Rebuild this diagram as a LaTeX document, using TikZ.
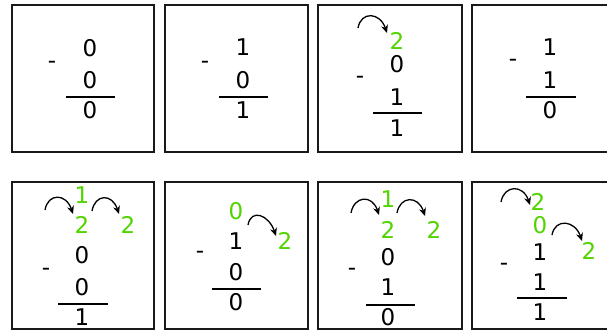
\documentclass[tikz,border=0pt]{standalone}
\usepackage{fontspec}
\setmainfont{DejaVu Sans}
\usetikzlibrary{arrows.meta,calc}
\definecolor{carry}{RGB}{82,212,0}
\tikzset{
  box/.style={draw=black!90, line width=1.6pt},
  dig/.style={inner sep=0pt, font=\fontsize{23}{27}\selectfont},
  gdig/.style={dig, text=carry},
  minus/.style={dig},
  rule/.style={line width=1.5pt},
  carryarrow/.style={line width=1.3pt, -{Stealth[length=8pt,width=7pt]}}
}
\newcommand{\carr}[2]{\draw[carryarrow] (#1) .. controls ($(#1)+(3,-17)$) and ($(#2)+(-7,-21)$) .. (#2);}
\begin{document}
\begin{tikzpicture}[x=1pt,y=-1pt]
\useasboundingbox (0,0) rectangle (607,331);
% boxes
\draw[box] (12,5) rectangle (154,152);
\draw[box] (165,5) rectangle (308,152);
\draw[box] (318,5) rectangle (462,152);
\draw[box] (472,5) rectangle (616,152);
\draw[box] (12,182) rectangle (154,329);
\draw[box] (165,182) rectangle (308,329);
\draw[box] (318,182) rectangle (462,329);
\draw[box] (472,182) rectangle (616,329);

% box 1
\node[dig] (a1) at (90,48) {0};
\node[dig] (a2) at (90,80) {0};
\node[dig] (a3) at (90,110) {0};
\node[minus] (am) at (52,65) {-};
\coordinate (al1) at (66,97); \coordinate (al2) at (115,97);
\draw[rule] (al1) -- (al2);

% box 2
\node[dig] (b1) at (243,47) {1};
\node[dig] (b2) at (243,80) {0};
\node[dig] (b3) at (243,110) {1};
\node[minus] (bm) at (205,65) {-};
\coordinate (bl1) at (219,97); \coordinate (bl2) at (268,97);
\draw[rule] (bl1) -- (bl2);

% box 3
\node[gdig] (cg) at (397,41) {2};
\node[dig] (c1) at (397,64) {0};
\node[dig] (c2) at (397,97) {1};
\node[dig] (c3) at (397,128) {1};
\node[minus] (cm) at (360,80) {-};
\coordinate (cl1) at (373,113); \coordinate (cl2) at (422,113);
\draw[rule] (cl1) -- (cl2);
\coordinate (cs) at (358,28); \coordinate (ce) at (387,33);
\carr{cs}{ce}

% box 4
\node[dig] (d1) at (550,47) {1};
\node[dig] (d2) at (550,80) {1};
\node[dig] (d3) at (550,110) {0};
\node[minus] (dm) at (513,63) {-};
\coordinate (dl1) at (526,97); \coordinate (dl2) at (576,97);
\draw[rule] (dl1) -- (dl2);

% box 5
\node[gdig] (eg1) at (82,195) {1};
\node[gdig] (eg2) at (82,225) {2};
\node[gdig] (eg3) at (128,225) {2};
\node[dig] (e1) at (82,255) {0};
\node[dig] (e2) at (82,287) {0};
\node[dig] (e3) at (82,317) {1};
\node[minus] (em) at (46,272) {-};
\coordinate (el1) at (58,304); \coordinate (el2) at (108,304);
\draw[rule] (el1) -- (el2);
\coordinate (es1) at (45,210); \coordinate (ee1) at (73,214);
\coordinate (es2) at (92,211); \coordinate (ee2) at (119,214);
\carr{es1}{ee1}
\carr{es2}{ee2}

% box 6
\node[gdig] (fg1) at (236,211) {0};
\node[dig] (f1) at (236,241) {1};
\node[gdig] (fg2) at (285,241) {2};
\node[dig] (f2) at (236,272) {0};
\node[dig] (f3) at (236,302) {0};
\node[minus] (fm) at (200,255) {-};
\coordinate (fl1) at (212,289); \coordinate (fl2) at (261,289);
\draw[rule] (fl1) -- (fl2);
\coordinate (fs) at (248,225); \coordinate (fe) at (276,236);
\carr{fs}{fe}

% box 7
\node[gdig] (gg1) at (388,199) {1};
\node[gdig] (gg2) at (388,230) {2};
\node[gdig] (gg3) at (434,230) {2};
\node[dig] (g1) at (388,257) {0};
\node[dig] (g2) at (388,287) {1};
\node[dig] (g3) at (388,317.5) {0};
\node[minus] (gm) at (352,272) {-};
\coordinate (gl1) at (366,305); \coordinate (gl2) at (415,305);
\draw[rule] (gl1) -- (gl2);
\coordinate (gs1) at (351,213); \coordinate (ge1) at (379,215);
\coordinate (gs2) at (397,213); \coordinate (ge2) at (425,216);
\carr{gs1}{ge1}
\carr{gs2}{ge2}

% box 8
\node[gdig] (hg1) at (538,202) {2};
\node[gdig] (hg2) at (540,225) {0};
\node[dig] (h1) at (540,252) {1};
\node[gdig] (hg3) at (589,251) {2};
\node[dig] (h2) at (540,282) {1};
\node[dig] (h3) at (540,312) {1};
\node[minus] (hm) at (504,267) {-};
\coordinate (hl1) at (517,298); \coordinate (hl2) at (567,298);
\draw[rule] (hl1) -- (hl2);
\coordinate (hs1) at (501,202); \coordinate (he1) at (530,205);
\coordinate (hs2) at (552,235); \coordinate (he2) at (582,241);
\carr{hs1}{he1}
\carr{hs2}{he2}
\end{tikzpicture}
\end{document}
